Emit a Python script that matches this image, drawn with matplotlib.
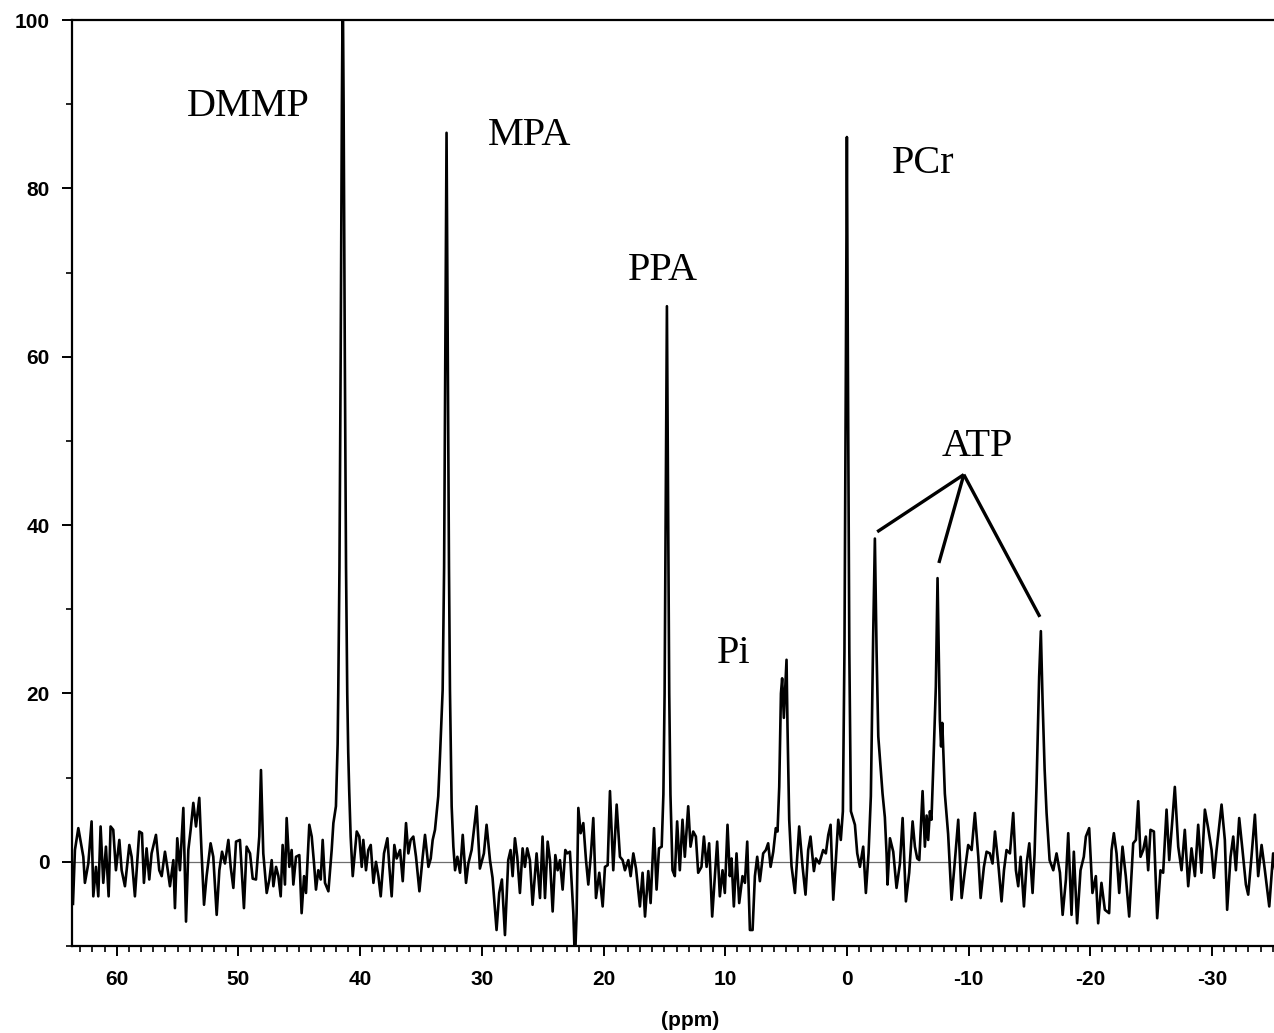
import numpy as np
import matplotlib
matplotlib.use("Agg")
import matplotlib.pyplot as plt

plt.rcParams["axes.unicode_minus"] = False

# ---------------- data (ppm, intensity) ----------------
ppm_a = [63.6, 63.44, 63.16, 62.75, 62.62, 62.34, 62.07, 61.93, 61.71, 61.52, 61.33, 61.11,
         60.89, 60.67, 60.51, 60.29, 60.07, 59.79, 59.60, 59.33, 58.97, 58.78, 58.51, 58.15,
         57.93, 57.77, 57.55, 57.33, 57.14, 56.78, 56.51, 56.31, 56.04, 55.85, 55.63, 55.35,
         55.22, 55.03, 54.81, 54.53, 54.31, 54.12, 53.93, 53.71, 53.49, 53.22, 53.03, 52.83,
         52.62, 52.29, 52.07, 51.79, 51.57, 51.35, 51.11, 50.83, 50.64, 50.42, 50.20, 49.88,
         49.55, 49.33, 49.05, 48.83, 48.56, 48.29, 48.15, 47.96, 47.68, 47.46, 47.27, 47.13,
         46.91, 46.72, 46.53, 46.37, 46.18, 46.04, 45.82, 45.63, 45.49, 45.27, 45.00, 44.81,
         44.61, 44.45, 44.18, 43.98, 43.79, 43.63, 43.44, 43.24, 43.08, 42.89, 42.61, 42.34]
int_a = [-5.0, 1.4, 4.0, 0.6, -2.5, -0.2, 4.8, -4.1, -0.6, -4.1, 4.2, -2.5,
         1.8, -4.1, 4.2, 3.8, -1.0, 2.6, -1.0, -2.9, 2.0, 0.6, -4.1, 3.6,
         3.4, -2.5, 1.6, -2.1, 1.0, 3.2, -1.0, -1.7, 1.2, -0.6, -2.9, 0.2,
         -5.5, 2.8, -1.0, 6.4, -7.1, 1.4, 3.8, 7.0, 4.2, 7.6, 1.0, -5.1,
         -1.7, 2.2, 0.6, -6.3, -1.0, 1.2, -0.2, 2.6, -0.6, -3.1, 2.4, 2.6,
         -5.5, 1.8, 1.0, -2.0, -2.1, 3.0, 10.9, 1.0, -3.7, -2.1, 0.2, -2.9,
         -0.6, -1.7, -4.1, 2.0, -2.7, 5.2, -0.6, 1.4, -2.7, 0.6, 0.8, -6.1,
         -1.7, -3.7, 4.4, 3.0, -0.2, -3.3, -1.0, -2.1, 2.6, -2.5, -3.5, 1.4]

# DMMP and MPA region
ppm_b = [42.20, 41.99, 41.85, 41.80, 41.70, 41.60, 41.50, 41.43, 41.36, 41.26, 41.16, 41.06,
         40.98, 40.90, 40.78, 40.61, 40.28, 40.07, 39.87, 39.74, 39.52, 39.33, 39.13, 38.91,
         38.70, 38.50, 38.31, 38.04, 37.76, 37.60, 37.41, 37.19, 37.00, 36.72, 36.50, 36.23,
         36.04, 35.85, 35.63, 35.41, 35.13, 34.86, 34.67, 34.39, 34.20, 34.04, 33.85, 33.58,
         33.44, 33.22, 33.10, 33.00, 32.90, 32.80, 32.70, 32.62, 32.48, 32.34, 32.20, 32.01,
         31.79, 31.57, 31.30, 31.11]
int_b = [4.6, 6.6, 14.0, 20.0, 35.0, 60.0, 90.0, 105.0, 90.0, 60.0, 35.0, 20.0,
         13.0, 8.5, 3.0, -1.7, 3.6, 3.0, -0.6, 2.6, -1.0, 1.4, 2.0, -2.5,
         0.0, -1.7, -4.1, 1.0, 2.8, -0.6, -4.1, 2.0, 0.4, 1.4, -2.3, 4.6,
         1.0, 2.6, 3.0, 0.6, -3.5, 0.6, 3.2, -0.6, 0.4, 2.6, 3.8, 7.8,
         12.5, 20.4, 35.0, 60.0, 86.6, 60.0, 35.0, 20.4, 6.6, 1.8, -1.0, 0.6,
         -1.3, 3.2, -2.5, -0.2]

# baseline 31 -> 15.2 ppm
ppm_c = [30.84, 30.43, 30.16, 29.83, 29.61, 29.33, 29.12, 28.79, 28.57, 28.35, 28.10, 27.83,
         27.64, 27.47, 27.28, 27.09, 26.87, 26.65, 26.46, 26.27, 26.05, 25.83, 25.50, 25.22,
         25.01, 24.81, 24.59, 24.40, 24.18, 23.96, 23.77, 23.58, 23.36, 23.14, 22.98, 22.76,
         22.48, 22.35, 22.21, 22.07, 21.88, 21.66, 21.44, 21.25, 21.03, 20.84, 20.62, 20.35,
         20.07, 19.88, 19.66, 19.47, 19.20, 18.92, 18.65, 18.43, 18.24, 17.96, 17.77, 17.55,
         17.33, 17.01, 16.79, 16.59, 16.32, 16.13, 15.85, 15.64, 15.44, 15.22]
int_c = [1.4, 6.6, -0.8, 1.0, 4.4, 0.2, -1.9, -8.1, -3.7, -2.1, -8.7, 0.2,
         1.4, -1.7, 2.8, 0.6, -3.7, 1.6, -0.6, 1.6, 0.2, -5.1, 1.0, -4.3,
         3.0, -4.3, 2.4, 0.2, -5.9, 0.8, -1.0, 0.2, -3.3, 1.4, 1.0, 1.2,
         -6.1, -12.0, -6.1, 6.4, 3.4, 4.6, 0.2, -2.7, 1.0, 5.2, -4.3, -1.3,
         -5.3, -0.6, -0.4, 8.4, -1.0, 6.8, 0.6, 0.2, -1.0, 0.2, -1.7, 1.0,
         -0.8, -5.3, -1.3, -6.5, -1.1, -4.9, 4.0, -3.3, 1.6, 1.8]

# PPA, Pi and PCr region
ppm_d = [15.08, 14.98, 14.90, 14.79, 14.68, 14.60, 14.50, 14.41, 14.33, 14.14, 13.95, 13.73,
         13.51, 13.32, 13.04, 12.85, 12.63, 12.41, 12.22, 11.95, 11.75, 11.53, 11.32, 11.07,
         10.85, 10.66, 10.44, 10.22, 10.03, 9.81, 9.62, 9.48, 9.29, 9.07, 8.85, 8.58,
         8.38, 8.19, 7.97, 7.75, 7.56, 7.37, 7.15, 6.88, 6.66, 6.47, 6.27, 6.05,
         5.84, 5.70, 5.56, 5.42, 5.32, 5.18, 4.96, 4.88, 4.74, 4.55, 4.27, 3.92,
         3.64, 3.40, 3.18, 2.99, 2.71, 2.55, 2.27, 1.95, 1.73, 1.53, 1.34, 1.12,
         0.90, 0.71, 0.50, 0.33, 0.20, 0.08, 0.00, -0.08, -0.20, -0.33, -0.66, -0.85,
         -1.07, -1.34, -1.56, -1.78]
int_d = [8.0, 20.0, 40.0, 66.0, 40.0, 20.0, 8.0, 3.0, -1.0, -1.7, 4.8, -1.0,
         5.0, 0.6, 6.6, 1.8, 3.6, 3.0, -1.3, -0.6, 3.0, -0.6, 2.2, -6.5,
         -1.7, 2.4, -4.1, -1.0, -3.7, 4.4, -1.7, 0.4, -5.3, 1.0, -4.9, -1.7,
         -2.5, 2.4, -8.1, -8.1, -1.7, 0.6, -2.3, 1.0, 1.4, 2.2, -0.6, 1.2,
         4.0, 3.6, 8.9, 20.0, 21.8, 17.1, 24.0, 16.0, 5.0, -0.5, -3.7, 4.2,
         -0.6, -3.9, 1.4, 3.0, -1.1, 0.4, -0.2, 1.4, 1.0, 3.2, 4.4, -4.5,
         0.4, 5.0, 2.6, 6.0, 25.0, 60.0, 86.1, 60.0, 25.0, 6.0, 4.4, 1.0,
         -0.6, 1.8, -3.7, 1.0]

# ATP region
ppm_e = [-1.97, -2.16, -2.30, -2.44, -2.58, -2.93, -3.12, -3.26, -3.34, -3.54, -3.81, -4.08,
         -4.36, -4.58, -4.85, -5.12, -5.40, -5.59, -5.78, -5.95, -6.22, -6.41, -6.55, -6.68,
         -6.82, -6.95, -7.09, -7.31, -7.45, -7.64, -7.74, -7.84, -8.05, -8.32, -8.46, -8.60,
         -8.88, -9.15, -9.43, -9.70, -9.97, -10.25, -10.52, -10.80, -10.99, -11.26, -11.48, -11.75,
         -11.97, -12.17, -12.44, -12.71, -12.91, -13.12, -13.40, -13.67, -13.89, -14.08, -14.28, -14.55,
         -14.77, -14.99, -15.26, -15.42, -15.59, -15.80, -15.94, -16.08, -16.25, -16.41, -16.66, -16.96,
         -17.23, -17.51, -17.73, -18.00, -18.19]
int_e = [7.8, 26.8, 38.4, 25.0, 14.9, 8.1, 5.3, 1.0, -2.7, 2.8, 1.2, -3.1,
         -0.2, 5.2, -4.7, -1.3, 4.8, 1.8, 0.4, 0.2, 8.4, 1.8, 5.5, 2.6,
         6.0, 5.0, 10.9, 20.8, 33.7, 16.9, 13.7, 16.5, 8.1, 3.3, -0.5, -4.5,
         0.2, 5.0, -4.3, -1.0, 2.0, 1.4, 5.8, 0.6, -4.3, -0.6, 1.2, 1.0,
         -0.2, 3.6, -0.2, -4.7, -1.0, 1.4, 1.0, 5.8, -1.0, -2.9, 0.6, -5.3,
         -0.2, 2.2, -3.7, 0.8, 9.3, 22.0, 27.4, 19.2, 11.0, 5.8, 0.2, -1.0,
         1.0, -1.3, -6.3, -2.1, 3.4]

# baseline -18.5 -> -35 ppm
ppm_f = [-18.46, -18.65, -18.92, -19.20, -19.47, -19.64, -19.91, -20.18, -20.46, -20.65, -20.92, -21.20,
         -21.55, -21.75, -21.94, -22.16, -22.38, -22.65, -22.92, -23.20, -23.53, -23.75, -23.94, -24.13,
         -24.35, -24.57, -24.76, -24.95, -25.23, -25.50, -25.77, -25.99, -26.27, -26.49, -26.76, -26.95,
         -27.23, -27.50, -27.77, -28.05, -28.32, -28.60, -28.87, -29.14, -29.42, -29.69, -29.97, -30.16,
         -30.38, -30.79, -31.06, -31.25, -31.53, -31.75, -31.97, -32.24, -32.51, -32.79, -32.98, -33.25,
         -33.53, -33.80, -34.08, -34.35, -34.71, -35.03, -35.20]
int_f = [-6.3, 1.2, -7.3, -1.0, 0.6, 3.0, 4.0, -3.7, -1.7, -7.3, -2.5, -5.7,
         -6.1, 1.4, 3.4, 1.0, -3.7, 1.8, -1.7, -6.5, 2.2, 2.6, 7.2, 0.6,
         1.4, 3.0, -1.0, 3.8, 3.6, -6.7, -1.0, -1.3, 6.2, 0.2, 5.2, 8.9,
         1.8, -1.0, 3.8, -2.9, 1.6, -1.7, 4.4, -1.3, 6.2, 4.0, 1.4, -1.9,
         1.4, 6.8, 2.6, -5.7, 0.6, 3.0, -1.0, 5.2, 1.4, -2.7, -3.9, 0.6,
         5.6, -1.7, 2.0, -1.0, -5.3, 1.0, -1.0]

# peak labels (text, ppm, intensity)
label_text = ["DMMP", "MPA", "PPA", "Pi", "PCr", "ATP"]
label_ppm = [49.2, 26.05, 15.1, 9.29, -6.25, -10.68]
label_int = [89.7, 86.3, 70.3, 24.8, 83.0, 49.3]

# ATP pointer lines: apex and the three peak ends
atp_apex = (-9.61, 46.0)
atp_ends_ppm = [-2.49, -7.56, -15.86]
atp_ends_int = [39.2, 35.5, 29.1]

x_ticks = [60, 50, 40, 30, 20, 10, 0, -10, -20, -30]
y_ticks = [0, 20, 40, 60, 80, 100]

# ---------------- plotting ----------------
ppm = np.concatenate([ppm_a, ppm_b, ppm_c, ppm_d, ppm_e, ppm_f])
inten = np.concatenate([int_a, int_b, int_c, int_d, int_e, int_f])

fig = plt.figure(figsize=(12.74, 10.33), dpi=100)
ax = fig.add_axes([72 / 1274, 1 - 946 / 1033, 1 - 72 / 1274, (946 - 20) / 1033])

ax.axhline(0, color="#6e6e6e", lw=0.9, zorder=1)
ax.plot(ppm, inten, color="black", lw=1.9, zorder=3)

ax.set_xlim(63.68, -35.1)
ax.set_ylim(-10, 100)

for s in ["left", "bottom", "top"]:
    ax.spines[s].set_linewidth(1.6)
ax.spines["right"].set_visible(False)

ax.set_xticks(x_ticks)
ax.set_xticks(np.arange(-35, 64, 1), minor=True)
ax.set_yticks(y_ticks)
ax.set_yticks([-10, 10, 30, 50, 70, 90], minor=True)
ax.tick_params(axis="both", which="major", direction="out", length=7, width=1.4,
               labelsize=15, pad=9)
ax.tick_params(axis="both", which="minor", direction="out", length=4, width=1.2)
ax.tick_params(axis="x", which="major", pad=10)
ax.tick_params(top=False, right=False, which="both")
for lab in ax.get_xticklabels() + ax.get_yticklabels():
    lab.set_fontfamily("Liberation Sans")
    lab.set_fontweight("bold")

fig.text(690 / 1274, 1 - 1020 / 1033, "(ppm)", ha="center", va="center",
         fontsize=15, fontfamily="Liberation Sans", fontweight="bold")

for t, xp, yp in zip(label_text, label_ppm, label_int):
    ax.text(xp, yp, t, ha="center", va="center", fontsize=29,
            fontfamily="Liberation Serif", zorder=4)

for xe, ye in zip(atp_ends_ppm, atp_ends_int):
    ax.plot([atp_apex[0], xe], [atp_apex[1], ye], color="black", lw=2.4,
            solid_capstyle="butt", zorder=4)

fig.savefig("out.png", dpi=100)
